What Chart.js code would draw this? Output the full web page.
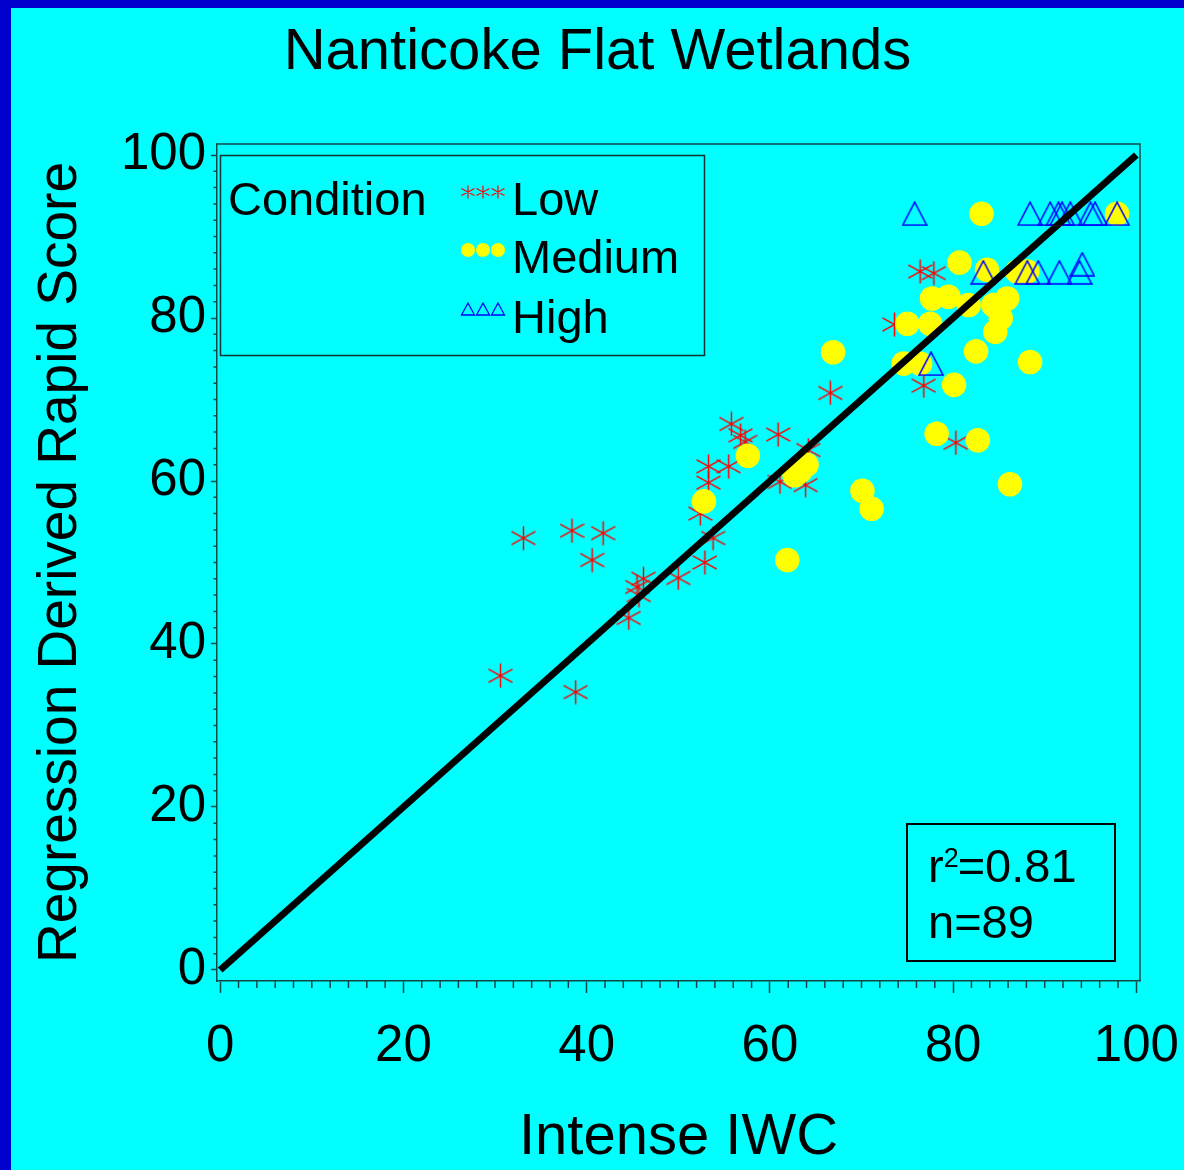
<!DOCTYPE html>
<html><head><meta charset="utf-8">
<script src="https://cdn.jsdelivr.net/npm/chart.js@4/dist/chart.umd.min.js"></script>
<style>html,body{margin:0;padding:0;background:#0000cc;overflow:hidden}canvas{display:block}</style>
</head><body>
<canvas id="c" width="1184" height="1170" style="width:1184px;height:1170px"></canvas>
<script>
// ---- text ----
const chartTitle = 'Nanticoke Flat Wetlands';
const xAxisTitle = 'Intense IWC';
const yAxisTitle = 'Regression Derived Rapid Score';
const legendTitle = 'Condition';
const categories = ['Low', 'Medium', 'High'];
const tickValues = [0, 20, 40, 60, 80, 100];
const statR2 = '0.81';
const statN = '89';

// ---- data (Intense IWC, Regression Derived Rapid Score) ----
const lowIWC   = [30.6, 33.1, 38.4, 38.8, 40.6, 41.8, 44.6, 45.5, 45.7, 46.2, 50.0, 52.9, 52.4, 53.8, 53.3, 53.3, 55.5, 55.8, 56.8, 57.3, 60.9, 61.1, 63.9, 64.2, 66.6, 73.6, 76.4, 77.9, 76.8, 80.3];
const lowRapid = [36.1, 53.0, 53.9, 34.1, 50.3, 53.6, 43.2, 47.0, 46.0, 48.0, 48.1, 50.0, 56.0, 53.0, 59.8, 61.8, 61.8, 67.0, 65.6, 64.8, 65.7, 59.9, 59.5, 63.8, 70.8, 79.2, 85.7, 85.5, 71.7, 64.7];

const mediumIWC   = [52.8, 57.6, 61.9, 62.7, 63.3, 64.0, 66.9, 70.1, 71.1, 74.6, 75.0, 76.4, 77.5, 77.7, 78.2, 79.5, 80.1, 80.7, 81.7, 82.5, 82.7, 83.1, 83.7, 84.4, 84.6, 85.2, 85.9, 86.2, 87.0, 88.1, 88.4, 97.9];
const mediumRapid = [57.5, 63.1, 50.3, 60.7, 61.2, 62.0, 75.8, 58.8, 56.6, 74.4, 79.3, 74.4, 79.3, 82.4, 65.8, 82.6, 71.8, 86.8, 81.6, 75.9, 65.0, 92.8, 85.9, 81.6, 78.3, 80.0, 82.4, 59.6, 85.7, 85.7, 74.6, 92.8];

const highIWC   = [75.8, 88.4, 90.6, 91.5, 91.9, 92.8, 95.0, 95.5, 97.9, 83.3, 88.1, 89.3, 91.6, 93.8, 94.1, 77.6];
const highRapid = [92.8, 92.8, 92.8, 92.8, 92.8, 92.8, 92.8, 92.8, 92.8, 85.6, 85.6, 85.6, 85.6, 85.6, 86.6, 74.4];

const fitIWC   = [0, 100];
const fitRapid = [0, 100];

// ---- styling ----
const BASE_FONT = "'Liberation Sans', Arial, Helvetica, sans-serif";
const AXIS_COLOR = '#104848';
const LOW_COLOR = '#ff0000', MED_COLOR = '#ffff00', HIGH_COLOR = '#0000ff';

function pairs(xs, ys) { return xs.map((v, i) => ({ x: v, y: ys[i] })); }

function asteriskPath(g, cx, cy, half) {
  const dy = half * 0.55;
  g.moveTo(cx, cy - half); g.lineTo(cx, cy + half);
  g.moveTo(cx - half, cy - dy); g.lineTo(cx + half, cy + dy);
  g.moveTo(cx - half, cy + dy); g.lineTo(cx + half, cy - dy);
}
function trianglePath(g, cx, cy, w, h) {
  g.moveTo(cx, cy - h / 2); g.lineTo(cx + w / 2, cy + h / 2); g.lineTo(cx - w / 2, cy + h / 2); g.closePath();
}
function makeAsterisk(s, color, lw) {
  const c = document.createElement('canvas'); c.width = s; c.height = s;
  const g = c.getContext('2d'); g.strokeStyle = color; g.lineWidth = lw;
  g.beginPath(); asteriskPath(g, s / 2, s / 2, s / 2 - 0.5); g.stroke();
  return c;
}
function makeTriangle(w, h, color, lw) {
  const c = document.createElement('canvas'); c.width = w + 2; c.height = h + 2;
  const g = c.getContext('2d'); g.strokeStyle = color; g.lineWidth = lw; g.lineJoin = 'miter';
  g.beginPath(); trianglePath(g, (w + 2) / 2, (h + 2) / 2, w, h); g.stroke();
  return c;
}
const asteriskImg = makeAsterisk(25, LOW_COLOR, 1.5);
const triangleImg = makeTriangle(24, 23, HIGH_COLOR, 1.6);

const backgroundPlugin = {
  id: 'bg',
  beforeDraw(chart) {
    const { ctx, width, height } = chart;
    ctx.save();
    ctx.fillStyle = '#0000cc'; ctx.fillRect(0, 0, width, height);
    ctx.fillStyle = '#00ffff'; ctx.fillRect(11, 8, width - 11, height - 8);
    ctx.restore();
  }
};

const framePlugin = {
  id: 'frame',
  afterDraw(chart) {
    const { ctx, chartArea: a, scales: { x, y } } = chart;
    ctx.save();
    ctx.strokeStyle = AXIS_COLOR; ctx.lineWidth = 1.5;
    ctx.beginPath();
    ctx.moveTo(a.left, a.top); ctx.lineTo(a.right, a.top); ctx.lineTo(a.right, a.bottom);
    // minor ticks every 2 units
    for (let v = 2; v < 100; v += 2) {
      if (v % 20 === 0) continue;
      const px = x.getPixelForValue(v);
      ctx.moveTo(px, x.top); ctx.lineTo(px, x.top + 7);
      const py = y.getPixelForValue(v);
      ctx.moveTo(y.right, py); ctx.lineTo(y.right - 3.5, py);
    }
    ctx.stroke();

    // legend box
    ctx.strokeStyle = '#0c3434'; ctx.lineWidth = 1.5;
    ctx.strokeRect(220.5, 155.5, 484, 200);
    ctx.fillStyle = '#000';
    ctx.font = '47px ' + BASE_FONT;
    ctx.textBaseline = 'alphabetic'; ctx.textAlign = 'left';
    ctx.fillText(legendTitle, 228, 215);
    const rowsY = [215, 273, 333];
    categories.forEach((c, i) => ctx.fillText(c, 512, rowsY[i]));
    const mx = [468, 483, 498];
    // Low markers
    ctx.strokeStyle = LOW_COLOR; ctx.lineWidth = 1.2; ctx.beginPath();
    mx.forEach(cx => asteriskPath(ctx, cx, 192, 6.5)); ctx.stroke();
    // Medium markers
    ctx.fillStyle = MED_COLOR;
    mx.forEach(cx => { ctx.beginPath(); ctx.arc(cx, 250, 7, 0, Math.PI * 2); ctx.fill(); });
    // High markers
    ctx.strokeStyle = HIGH_COLOR; ctx.lineWidth = 1.3; ctx.beginPath();
    mx.forEach(cx => trianglePath(ctx, cx, 309, 13, 12)); ctx.stroke();

    // stats box
    ctx.strokeStyle = '#000'; ctx.lineWidth = 2;
    ctx.strokeRect(907, 824, 208, 137);
    ctx.fillStyle = '#000';
    ctx.font = '47px ' + BASE_FONT;
    ctx.fillText('r', 928, 882);
    let cx = 928 + ctx.measureText('r').width;
    ctx.font = '27px ' + BASE_FONT;
    ctx.fillText('2', cx, 867);
    cx += ctx.measureText('2').width - 1;
    ctx.font = '47px ' + BASE_FONT;
    ctx.fillText('=' + statR2, cx, 882);
    ctx.fillText('n=' + statN, 928, 938);
    ctx.restore();
  }
};

Chart.defaults.font.family = BASE_FONT;
Chart.defaults.color = '#000';

new Chart(document.getElementById('c'), {
  type: 'scatter',
  data: {
    datasets: [
      { label: 'Fit', type: 'line', data: pairs(fitIWC, fitRapid), borderColor: '#000', borderWidth: 7,
        pointRadius: 0, fill: false, order: 0, borderCapStyle: 'butt' },
      { label: categories[2], data: pairs(highIWC, highRapid), pointStyle: triangleImg, pointRadius: 12, order: 1 },
      { label: categories[1], data: pairs(mediumIWC, mediumRapid), pointStyle: 'circle', pointRadius: 12.3,
        backgroundColor: MED_COLOR, borderWidth: 0, order: 2 },
      { label: categories[0], data: pairs(lowIWC, lowRapid), pointStyle: asteriskImg, pointRadius: 12, order: 3 }
    ]
  },
  options: {
    responsive: false,
    animation: false,
    devicePixelRatio: 1,
    layout: { padding: { left: 11, top: 8, right: 0, bottom: 0 } },
    plugins: {
      legend: { display: false },
      tooltip: { enabled: false },
      title: { display: true, text: chartTitle, color: '#000',
        font: { size: 58, weight: 'normal', lineHeight: 1 }, padding: { top: 16, bottom: 62 } }
    },
    scales: {
      x: {
        type: 'linear', position: 'bottom', min: -0.35, max: 100.4,
        afterBuildTicks: s => { s.ticks = tickValues.map(v => ({ value: v })); },
        afterFit: s => { s.height = 189; },
        ticks: { font: { size: 51, lineHeight: 2.1 }, color: '#000', padding: 0,
          maxRotation: 0, autoSkip: false },
        grid: { display: true, drawOnChartArea: false, drawTicks: true, tickLength: 12,
          tickColor: AXIS_COLOR, tickWidth: 1.5 },
        border: { display: true, color: AXIS_COLOR, width: 1.5 },
        title: { display: true, text: xAxisTitle, color: '#000', font: { size: 58, lineHeight: 1 },
          padding: { top: 0, bottom: 3 } }
      },
      y: {
        type: 'linear', position: 'left', min: -1.35, max: 101.35,
        afterBuildTicks: s => { s.ticks = tickValues.map(v => ({ value: v })); },
        afterFit: s => { s.width = 206; },
        ticks: { font: { size: 51, lineHeight: 1 }, color: '#000', padding: 5, autoSkip: false },
        grid: { display: true, drawOnChartArea: false, drawTicks: true, tickLength: 6,
          tickColor: AXIS_COLOR, tickWidth: 1.5 },
        border: { display: true, color: AXIS_COLOR, width: 1.5 },
        title: { display: true, text: yAxisTitle, color: '#000', font: { size: 55, lineHeight: 1 },
          padding: { top: 22, bottom: 0 } }
      },
      yRight: {
        type: 'linear', position: 'right', display: true,
        afterFit: s => { s.width = 44; },
        ticks: { display: false }, grid: { display: false }, border: { display: false }
      }
    }
  },
  plugins: [backgroundPlugin, framePlugin]
});
</script>
</body></html>
